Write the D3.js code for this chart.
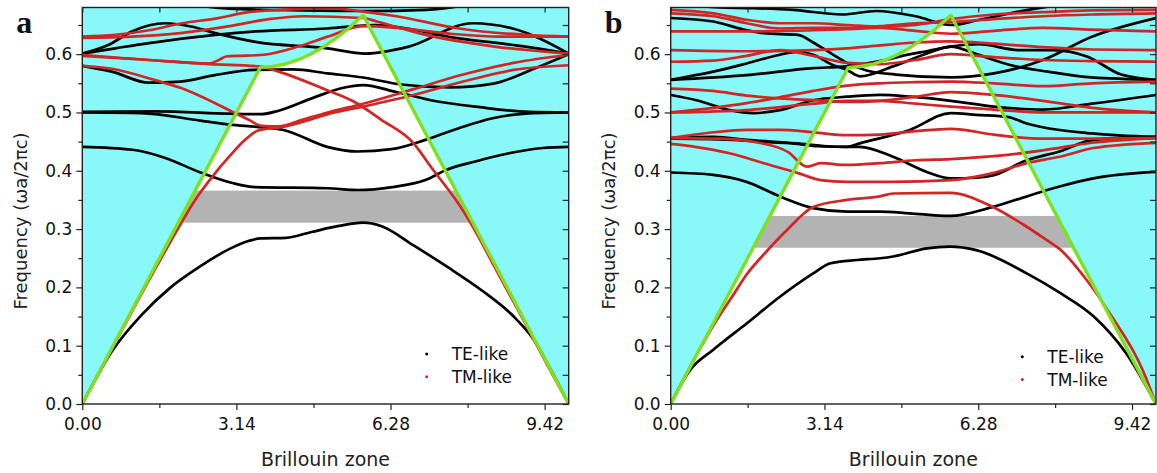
<!DOCTYPE html>
<html><head><meta charset="utf-8">
<script src="https://cdn.jsdelivr.net/npm/d3@7"></script>
<style>body{margin:0;background:#fff}svg{display:block}</style>
</head><body><svg id="c" width="1157" height="473" font-family="'DejaVu Sans',Arial,sans-serif"></svg>
<script>
// ---------- data ----------
const kTicks = [0, 3.14, 6.28, 9.42];
const kTickLabels = ["0.00", "3.14", "6.28", "9.42"];
const kMinorTicks = [1.57, 4.71, 7.85];
const fTicks = [0, 0.1, 0.2, 0.3, 0.4, 0.5, 0.6];
const fMinorTicks = [0.05, 0.15, 0.25, 0.35, 0.45, 0.55, 0.65];
const kDomain = [0, 9.91];
const fDomain = [0, 0.68];
// light line Γ-M-K-Γ
const lightLine = [[0,0],[3.628,0.5774],[3.878,0.5788],[4.128,0.5829],[4.378,0.5896],[4.628,0.5990],[4.878,0.6107],[5.128,0.6248],[5.378,0.6411],[5.722,0.6667],[9.91,0]];
const gapA = [0.311, 0.366];
const gapB = [0.268, 0.3225];

const teA = [
 [[0,0],[0.6,0.09],[1.2,0.152],[1.8,0.2],[2.4,0.236],[3.0,0.266],[3.4,0.28],[3.63,0.284],[4.15,0.285],[4.67,0.295],[5.2,0.305],[5.72,0.311],[6.1,0.305],[6.75,0.272],[7.44,0.235],[8.12,0.196],[8.79,0.15],[9.2,0.11],[9.55,0.058],[9.91,0]],
 [[0,0.441],[1.02,0.436],[1.69,0.422],[2.38,0.398],[3.06,0.379],[3.52,0.372],[4.99,0.37],[5.63,0.367],[6.32,0.372],[6.99,0.384],[7.4,0.401],[8.01,0.416],[8.69,0.43],[9.38,0.439],[9.91,0.441]],
 [[0,0.5],[1.2,0.499],[2.4,0.486],[3.0,0.479],[3.6,0.475],[4.1,0.47],[4.99,0.441],[5.6,0.433],[6.3,0.437],[6.99,0.453],[7.67,0.473],[8.36,0.49],[9.03,0.498],[9.91,0.5]],
 [[0,0.501],[1.5,0.502],[3.0,0.498],[3.65,0.497],[4.0,0.503],[4.7,0.525],[5.3,0.542],[5.72,0.547],[6.4,0.535],[7.1,0.521],[8.1,0.509],[9.1,0.501],[9.91,0.5]],
 [[0,0.58],[0.6,0.57],[1.36,0.551],[2.0,0.553],[2.7,0.564],[3.5,0.573],[4.3,0.574],[5.0,0.567],[5.72,0.56],[6.5,0.548],[7.5,0.543],[8.4,0.55],[9.2,0.575],[9.91,0.6]],
 [[0,0.601],[0.67,0.61],[1.36,0.619],[2.71,0.633],[3.53,0.639],[4.99,0.644],[5.97,0.65],[7.67,0.627],[9.03,0.613],[9.91,0.601]],
 [[0,0.601],[0.54,0.616],[1.01,0.639],[1.69,0.653],[2.24,0.647],[2.71,0.636],[3.53,0.621],[4.99,0.61],[5.77,0.601],[6.65,0.613],[7.95,0.653],[8.77,0.644],[9.91,0.601]],
 [[1.8,0.69],[3.0,0.678],[4.5,0.675],[5.72,0.674],[7.0,0.676],[8.2,0.69]]
];
const tmA = [
 [[0,0],[0.6,0.094],[1.2,0.188],[1.93,0.298],[2.3,0.35],[2.65,0.39],[3.0,0.425],[3.3,0.452],[3.55,0.468],[3.75,0.472],[4.0,0.474],[4.5,0.484],[5.0,0.497],[5.72,0.51],[6.75,0.53],[7.76,0.553],[8.79,0.573],[9.91,0.581]],
 [[0,0.58],[0.6,0.575],[1.5,0.555],[2.04,0.541],[3.06,0.501],[3.4,0.487],[3.65,0.477],[4.0,0.476],[4.5,0.488],[5.0,0.5],[5.72,0.515],[6.75,0.54],[7.76,0.565],[8.79,0.585],[9.91,0.599]],
 [[0,0.597],[1.36,0.59],[2.6,0.583],[3.6,0.579],[4.0,0.57],[4.96,0.539],[5.5,0.52],[6.1,0.487],[6.75,0.447],[7.1,0.407],[7.77,0.33],[8.05,0.29],[8.4,0.235],[9.0,0.142],[9.5,0.063],[9.91,0]],
 [[0,0.599],[1.36,0.59],[2.58,0.584],[2.78,0.59],[2.93,0.596],[3.7,0.599],[4.4,0.613],[5.0,0.63],[5.72,0.648],[6.4,0.645],[7.5,0.635],[8.5,0.63],[9.91,0.63]],
 [[0,0.63],[0.67,0.633],[1.36,0.641],[2.04,0.653],[2.71,0.661],[3.39,0.672],[4.07,0.676],[4.99,0.679],[5.72,0.673],[6.4,0.665],[7.67,0.644],[9.03,0.633],[9.91,0.63]],
 [[0,0.628],[1.0,0.63],[2.0,0.636],[3.0,0.648],[3.8,0.66],[4.5,0.665],[5.72,0.662],[6.0,0.656],[7.0,0.633],[8.4,0.613],[9.91,0.601]]
];
const teB = [
 [[0,0],[0.394,0.058],[0.87,0.093],[1.55,0.138],[2.23,0.184],[2.91,0.224],[3.25,0.241],[3.8,0.247],[4.28,0.25],[4.54,0.253],[5.23,0.267],[5.7,0.27],[6.24,0.264],[7.27,0.224],[7.96,0.19],[8.64,0.15],[9.3,0.087],[9.91,0]],
 [[0,0.397],[0.87,0.393],[1.55,0.381],[2.23,0.356],[2.91,0.336],[3.6,0.33],[4.27,0.33],[4.88,0.327],[5.7,0.3225],[6.58,0.338],[7.27,0.356],[7.94,0.373],[8.63,0.387],[9.91,0.398]],
 [[0,0.456],[0.87,0.458],[1.55,0.453],[2.57,0.447],[3.2,0.442],[3.6,0.441],[3.86,0.441],[4.54,0.424],[5.23,0.398],[5.72,0.387],[6.24,0.388],[6.58,0.392],[7.27,0.418],[7.94,0.433],[8.63,0.453],[9.91,0.458]],
 [[0,0.455],[1.0,0.454],[2.0,0.449],[2.6,0.446],[3.0,0.442],[3.6,0.441],[3.86,0.447],[4.88,0.47],[5.72,0.499],[6.24,0.496],[6.9,0.492],[7.27,0.481],[8.6,0.464],[9.91,0.458]],
 [[0,0.53],[0.53,0.521],[1.2,0.504],[1.7,0.499],[2.23,0.504],[2.91,0.521],[3.6,0.527],[4.27,0.53],[4.9,0.527],[5.72,0.52],[6.6,0.51],[7.6,0.505],[8.6,0.515],[9.91,0.53]],
 [[0,0.556],[0.87,0.57],[1.55,0.584],[2.23,0.599],[2.57,0.604],[2.91,0.599],[3.32,0.581],[3.6,0.573],[3.86,0.562],[4.54,0.579],[5.23,0.601],[5.72,0.613],[6.24,0.6],[7.0,0.58],[7.7,0.57],[8.6,0.56],[9.91,0.556]],
 [[0,0.556],[1.55,0.564],[2.91,0.576],[3.6,0.579],[4.27,0.588],[4.9,0.6],[5.23,0.605],[5.72,0.613],[6.3,0.617],[7.1,0.607],[7.8,0.607],[8.5,0.596],[9.2,0.565],[9.91,0.556]],
 [[0,0.662],[0.87,0.656],[1.55,0.641],[1.9,0.636],[2.6,0.633],[2.91,0.62],[3.3,0.6],[3.6,0.585],[4.0,0.572],[4.6,0.565],[5.72,0.56],[6.6,0.567],[7.6,0.59],[8.6,0.63],[9.91,0.662]],
 [[0,0.69],[1.0,0.68],[1.55,0.679],[2.5,0.676],[3.5,0.668],[4.2,0.674],[5.0,0.665],[5.72,0.65],[6.3,0.659],[7.3,0.676],[8.5,0.69]]
];
const tmB = [
 [[0,0],[0.5,0.08],[0.94,0.144],[1.3,0.19],[1.55,0.222],[1.96,0.262],[2.37,0.298],[2.91,0.338],[3.6,0.35],[4.27,0.356],[4.54,0.361],[5.7,0.362],[6.58,0.338],[7.27,0.304],[7.68,0.281],[7.94,0.266],[8.49,0.213],[8.96,0.156],[9.64,0.058],[9.91,0]],
 [[0,0.446],[0.5,0.441],[1.2,0.43],[1.9,0.413],[2.6,0.396],[3.06,0.384],[3.6,0.381],[4.5,0.381],[5.72,0.384],[6.58,0.396],[7.27,0.413],[7.94,0.424],[8.63,0.439],[9.91,0.448]],
 [[0,0.456],[1.0,0.455],[1.8,0.448],[2.4,0.432],[2.78,0.407],[3.06,0.413],[3.6,0.41],[4.27,0.413],[5.0,0.418],[5.72,0.42],[6.6,0.425],[7.6,0.435],[8.6,0.448],[9.91,0.456]],
 [[0,0.456],[0.87,0.466],[1.55,0.47],[2.23,0.47],[2.91,0.466],[3.6,0.461],[4.27,0.462],[5.0,0.468],[5.72,0.472],[6.6,0.462],[7.6,0.455],[8.6,0.455],[9.91,0.456]],
 [[0,0.5],[0.87,0.508],[1.55,0.516],[2.23,0.526],[2.91,0.537],[3.6,0.546],[4.27,0.55],[5.0,0.552],[5.72,0.553],[6.6,0.55],[7.6,0.545],[8.6,0.55],[9.91,0.553]],
 [[0,0.5],[1.55,0.504],[2.91,0.515],[3.6,0.52],[4.27,0.52],[5.0,0.515],[5.72,0.51],[6.6,0.505],[7.6,0.5],[8.6,0.5],[9.91,0.5]],
 [[0,0.541],[0.87,0.537],[1.55,0.529],[2.23,0.524],[2.91,0.521],[3.6,0.518],[4.27,0.52],[5.0,0.527],[5.72,0.535],[6.6,0.53],[7.6,0.52],[8.6,0.508],[9.91,0.5]],
 [[0,0.587],[0.87,0.589],[1.55,0.597],[2.23,0.607],[2.91,0.597],[3.6,0.585],[4.27,0.583],[5.0,0.59],[5.72,0.6],[6.6,0.595],[7.6,0.59],[8.6,0.588],[9.91,0.587]],
 [[0,0.607],[1.55,0.605],[2.91,0.607],[3.6,0.61],[4.27,0.615],[5.0,0.62],[5.72,0.622],[6.6,0.618],[7.6,0.612],[8.6,0.608],[9.91,0.607]],
 [[0,0.639],[1.55,0.639],[2.91,0.641],[3.6,0.643],[4.27,0.645],[5.0,0.64],[5.72,0.635],[6.6,0.64],[7.6,0.645],[8.6,0.642],[9.91,0.639]],
 [[0,0.67],[0.87,0.665],[1.55,0.653],[2.23,0.644],[2.91,0.645],[3.6,0.645],[4.27,0.648],[5.0,0.653],[5.72,0.655],[6.6,0.66],[7.6,0.665],[8.6,0.668],[9.91,0.67]],
 [[0,0.676],[0.87,0.67],[1.55,0.659],[2.23,0.653],[2.91,0.653],[3.6,0.65],[4.27,0.647],[5.0,0.65],[5.72,0.66],[6.6,0.668],[7.6,0.672],[8.6,0.675],[9.91,0.676]]
];

// ---------- drawing ----------
const svg = d3.select("#c");
const C = {cyan:"#88f8f8", gray:"#b3b3b3", te:"#000000", tm:"#d42424", light:"#80e020", ink:"#222"};
const SANS = "'DejaVu Sans',Arial,sans-serif";

function panel(o){
  const x = d3.scaleLinear().domain(kDomain).range([o.left, o.right]);
  const y = d3.scaleLinear().domain(fDomain).range([o.bottom, o.top]);
  const g = svg.append("g");
  const clipId = "clip"+o.name;
  g.append("clipPath").attr("id",clipId).append("rect")
    .attr("x",o.left).attr("y",o.top).attr("width",o.right-o.left).attr("height",o.bottom-o.top);
  const pg = g.append("g").attr("clip-path",`url(#${clipId})`);
  pg.append("rect").attr("x",o.left).attr("width",o.right-o.left)
    .attr("y",y(o.gap[1])).attr("height",y(o.gap[0])-y(o.gap[1])).attr("fill",C.gray);
  const poly = lightLine.concat([[kDomain[1],fDomain[1]],[kDomain[0],fDomain[1]]]);
  pg.append("path").attr("d", d3.line().x(d=>x(d[0])).y(d=>y(d[1]))(poly)+"Z").attr("fill",C.cyan);
  const line = d3.line().x(d=>x(d[0])).y(d=>y(d[1])).curve(d3.curveMonotoneX);
  pg.selectAll(".te").data(o.te).join("path").attr("d",line)
    .attr("fill","none").attr("stroke",C.te).attr("stroke-width",2.7);
  pg.selectAll(".tm").data(o.tm).join("path").attr("d",line)
    .attr("fill","none").attr("stroke",C.tm).attr("stroke-width",2.7);
  pg.append("path").attr("d", d3.line().x(d=>x(d[0])).y(d=>y(d[1]))(lightLine))
    .attr("fill","none").attr("stroke",C.light).attr("stroke-width",3.4).attr("stroke-linejoin","round");
  // axes
  g.append("g").attr("transform",`translate(0,${o.bottom})`)
    .call(d3.axisBottom(x).tickValues(kTicks).tickFormat((d,i)=>kTickLabels[i]).tickSize(6).tickPadding(8));
  g.append("g").attr("transform",`translate(0,${o.bottom})`)
    .call(d3.axisBottom(x).tickValues(kMinorTicks).tickFormat("").tickSize(4));
  g.append("g").attr("transform",`translate(${o.left},0)`)
    .call(d3.axisLeft(y).tickValues(fTicks).tickFormat(d3.format(".1f")).tickSize(6).tickPadding(4));
  g.append("g").attr("transform",`translate(${o.left},0)`)
    .call(d3.axisLeft(y).tickValues(fMinorTicks).tickFormat("").tickSize(4));
  g.append("g").attr("transform",`translate(${o.right},0)`)
    .call(d3.axisRight(y).tickValues(fTicks.concat(fMinorTicks)).tickFormat("").tickSize(-6));
  g.append("g").attr("transform",`translate(0,${o.top})`)
    .call(d3.axisTop(x).tickValues(kTicks.concat(kMinorTicks)).tickFormat("").tickSize(-5));
  g.selectAll(".domain").remove();
  g.selectAll(".tick line").attr("stroke",C.ink).attr("stroke-width",1.2);
  g.selectAll(".tick text").style("font-size","17px").style("font-family",SANS).attr("fill","#111");
  g.append("rect").attr("x",o.left).attr("y",o.top).attr("width",o.right-o.left).attr("height",o.bottom-o.top)
    .attr("fill","none").attr("stroke",C.ink).attr("stroke-width",1.4);
  // labels
  g.append("text").attr("x",(o.left+o.right)/2).attr("y",466).attr("text-anchor","middle")
    .style("font-family",SANS).style("font-size","19px").attr("fill",C.ink).text("Brillouin zone");
  g.append("text").attr("transform",`translate(${o.left-55.5},221) rotate(-90)`)
    .attr("text-anchor","middle").style("font-family",SANS).style("font-size","18px").attr("fill",C.ink)
    .text("Frequency (\u03c9a/2\u03c0c)");
  g.append("text").attr("x",o.left-66).attr("y",33)
    .style("font-family","'Liberation Serif','Times New Roman',serif").style("font-weight","bold")
    .style("font-size","32px").attr("fill","#111").text(o.name);
  // legend
  [["TE-like",C.te],["TM-like",C.tm]].forEach((d,i)=>{
    g.append("circle").attr("cx",o.legX).attr("cy",o.legY+i*22.7).attr("r",1.5).attr("fill",d[1]);
    g.append("text").attr("x",o.legX+25).attr("y",o.legY+i*22.7+6.3)
      .style("font-family",SANS).style("font-size","17px").attr("fill","#111").text(d[0]);
  });
}
panel({name:"a", left:82.3, right:568.7, top:7.5, bottom:404, gap:gapA, te:teA, tm:tmA, legX:426.7, legY:354});
panel({name:"b", left:670.7, right:1156, top:7.5, bottom:404, gap:gapB, te:teB, tm:tmB, legX:1022.3, legY:356.7});
</script></body></html>
